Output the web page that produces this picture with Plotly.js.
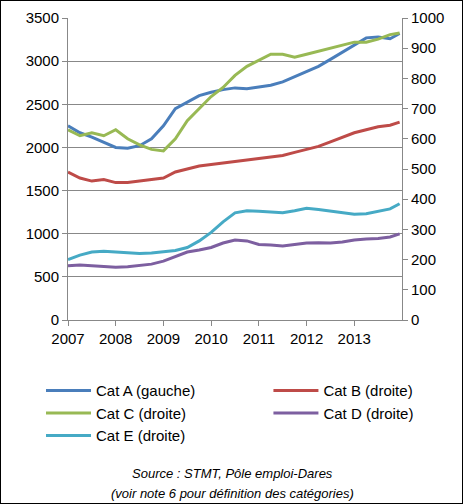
<!DOCTYPE html>
<html><head><meta charset="utf-8">
<script src="https://cdn.plot.ly/plotly-3.0.1.min.js"></script>
<style>body{margin:0}#c{width:461px;height:502px;border:1px solid #000}</style>
</head><body><div id="c"></div>
<script>
var t = [2007,2007.25,2007.5,2007.75,2008,2008.25,2008.5,2008.75,2009,2009.25,2009.5,2009.75,2010,2010.25,2010.5,2010.75,2011,2011.25,2011.5,2011.75,2012,2012.25,2012.5,2012.75,2013,2013.25,2013.5,2013.75,2013.95];
var years = [2007,2008,2009,2010,2011,2012,2013];
var catA = [2250,2170,2120,2060,2000,1990,2020,2100,2250,2450,2530,2600,2640,2670,2690,2680,2700,2720,2760,2820,2880,2940,3020,3100,3180,3270,3280,3260,3320];
var catB = [490,470,460,465,455,455,460,465,470,490,500,510,515,520,525,530,535,540,545,555,565,575,590,605,620,630,640,645,655];
var catC = [630,610,620,610,630,600,580,565,560,600,660,700,740,770,810,840,860,880,880,870,880,890,900,910,920,920,930,945,950];
var catD = [180,182,180,178,175,176,180,185,195,210,225,232,240,255,265,262,250,248,245,250,255,256,255,258,265,268,270,275,285];
var catE = [200,215,225,228,225,222,220,222,225,230,240,262,290,325,355,362,360,358,355,362,370,366,360,355,350,352,360,368,385];

var font = {family:'Liberation Sans, Arial', size:15, color:'#000'};
function tr(name, y, color, axis, leg){
  return {x:t, y:y, name:name, type:'scatter', mode:'lines', yaxis:axis, legend:leg, line:{color:color, width:3}};
}
var data = [
  tr('Cat A (gauche)', catA, '#4a7ebb', 'y', 'legend'),
  tr('Cat B (droite)', catB, '#be4b48', 'y2', 'legend2'),
  tr('Cat C (droite)', catC, '#98b954', 'y2', 'legend'),
  tr('Cat D (droite)', catD, '#7d5fa0', 'y2', 'legend2'),
  tr('Cat E (droite)', catE, '#46aac5', 'y2', 'legend')
];
var legBase = {yanchor:'top', xanchor:'left', font:font, itemwidth:45, tracegroupgap:0, bgcolor:'rgba(0,0,0,0)'};
Plotly.newPlot('c', data, {
  width:461, height:502, font:font, showlegend:true,
  margin:{l:40, r:60, t:17, b:183},
  paper_bgcolor:'#fff', plot_bgcolor:'#fff',
  xaxis:{domain:[0.0748,1], range:[2007,2014], tickvals:years, showgrid:false, showline:true, linecolor:'#888', ticks:'outside', ticklen:5, tickcolor:'#888', zeroline:false},
  yaxis:{range:[0,3500], dtick:500, automargin:false, gridcolor:'#888', showline:true, linecolor:'#888', ticks:'outside', tickcolor:'#888', zeroline:false},
  yaxis2:{range:[0,1000], dtick:100, overlaying:'y', side:'right', showgrid:false, showline:true, linecolor:'#888', ticks:'outside', tickcolor:'#888', zeroline:false},
  legend:Object.assign({x:0.0, y:-0.18}, legBase),
  legend2:Object.assign({x:0.63, y:-0.18}, legBase),
  annotations:[
    {xref:'paper', yref:'paper', x:0.53, y:-0.54, xanchor:'center', showarrow:false, text:'<i>Source : STMT, Pôle emploi-Dares</i>', font:{family:'Liberation Sans, Arial', size:13}},
    {xref:'paper', yref:'paper', x:0.53, y:-0.605, xanchor:'center', showarrow:false, text:'<i>(voir note 6 pour définition des catégories)</i>', font:{family:'Liberation Sans, Arial', size:13}}
  ]
}, {displayModeBar:false});
</script></body></html>
